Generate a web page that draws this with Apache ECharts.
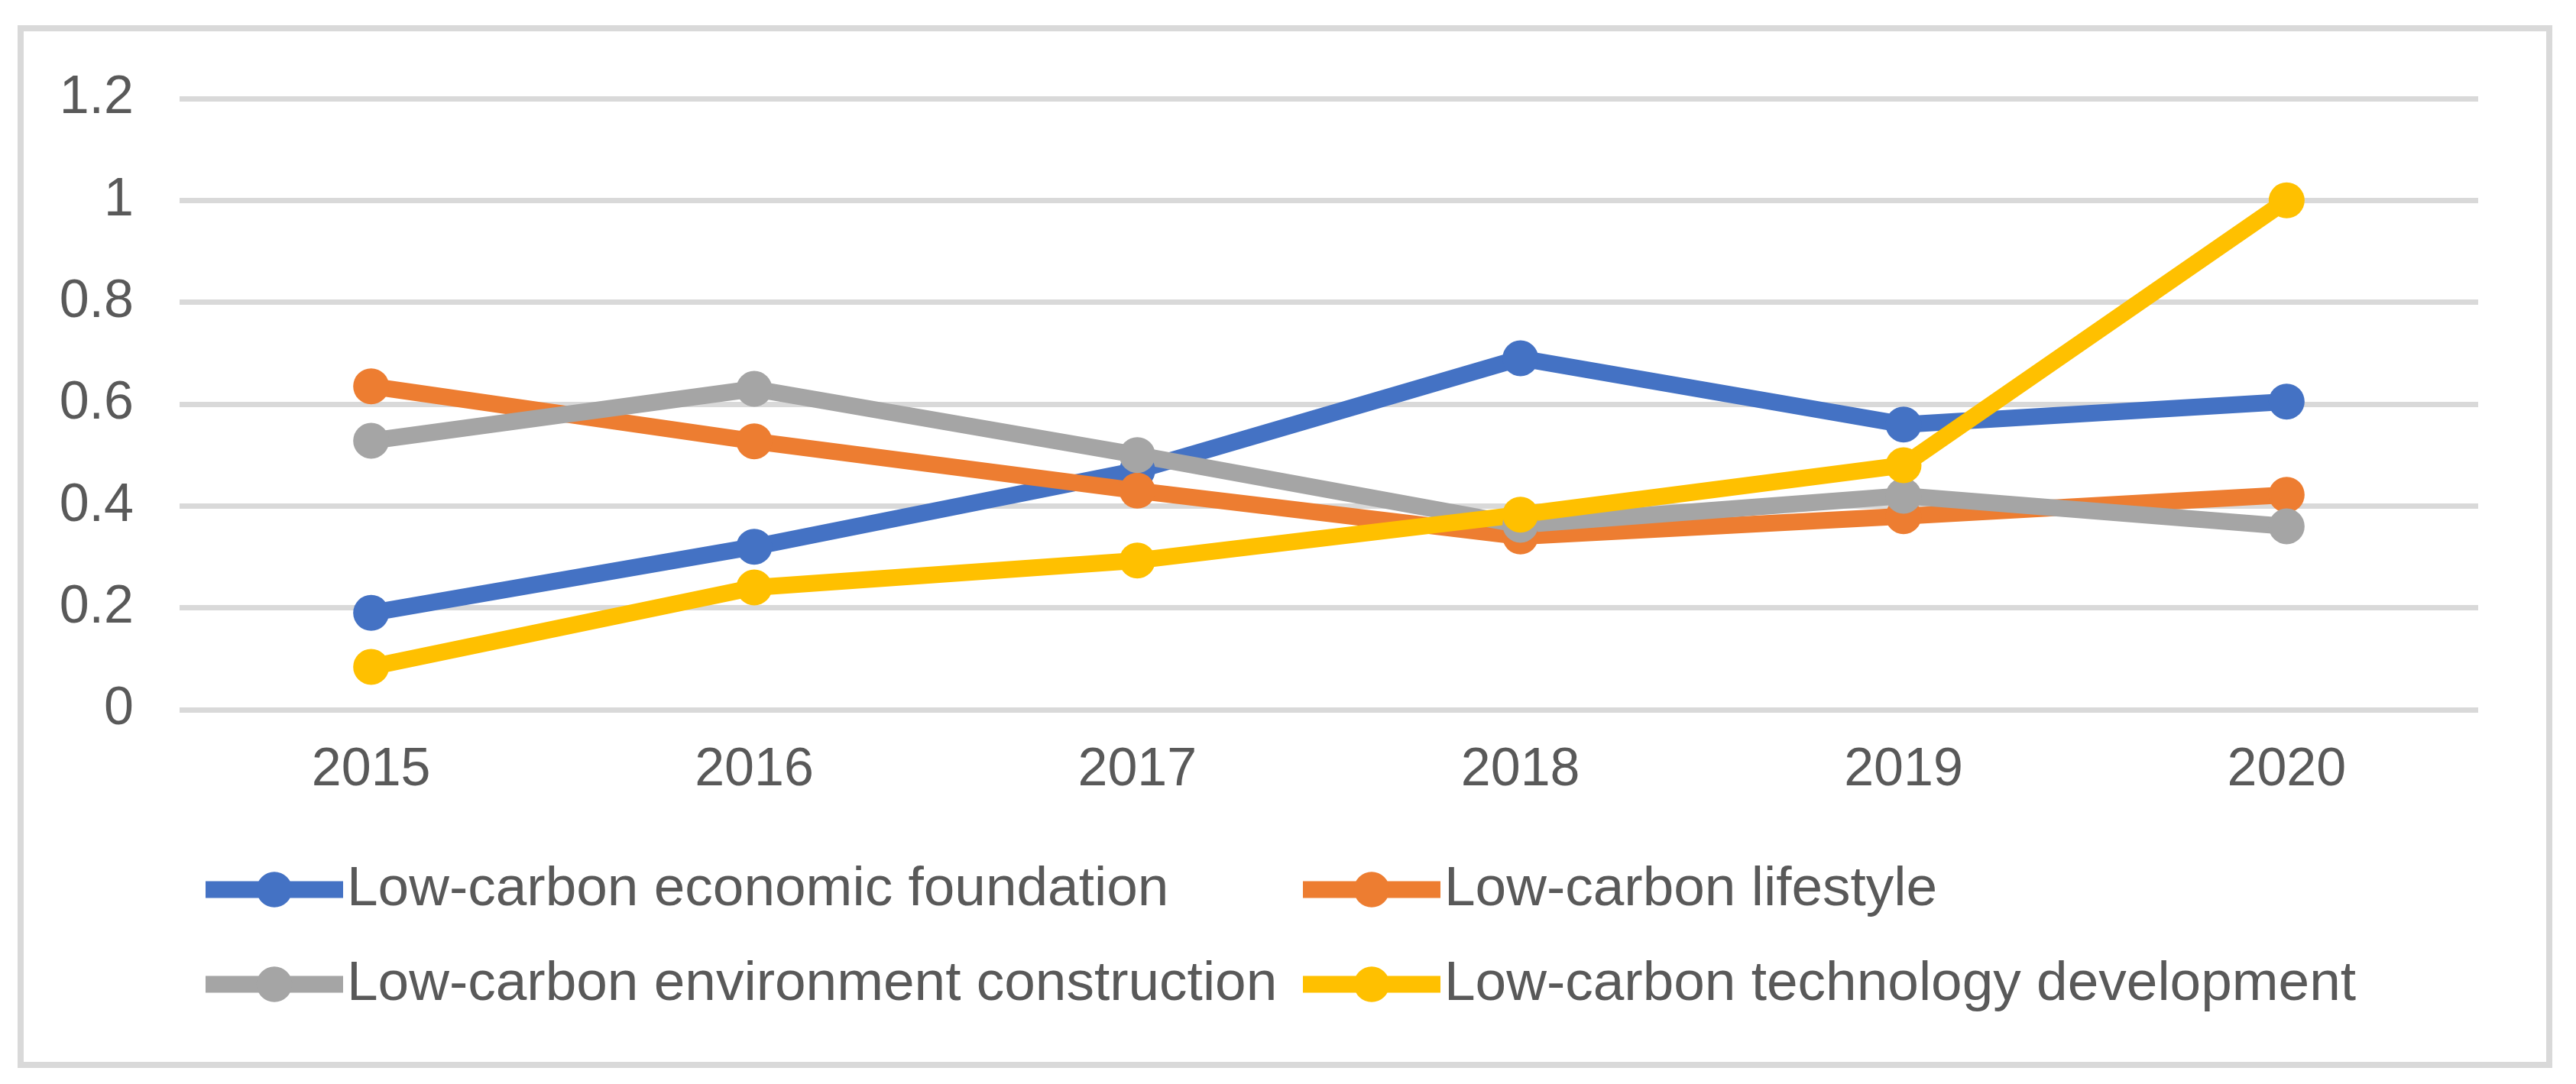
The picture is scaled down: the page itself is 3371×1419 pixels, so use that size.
<!DOCTYPE html>
<html>
<head>
<meta charset="utf-8">
<script src="https://cdn.jsdelivr.net/npm/echarts@6/dist/echarts.min.js"></script>
<style>
  html, body { margin: 0; padding: 0; background: #fff; }
  #chart { width: 3371px; height: 1419px; }
</style>
</head>
<body>
<div id="chart"></div>
<script>
// low-carbon index, 2015-2020
const years = ['2015', '2016', '2017', '2018', '2019', '2020'];

const economicFoundation = [0.19, 0.32, 0.47, 0.69, 0.56, 0.605];
const lifestyle = [0.635, 0.527, 0.43, 0.34, 0.38, 0.422];
const environmentConstruction = [0.528, 0.63, 0.5, 0.363, 0.42, 0.36];
const technologyDevelopment = [0.084, 0.24, 0.293, 0.383, 0.48, 1.0];

const seriesNames = [
  'Low-carbon economic foundation',
  'Low-carbon lifestyle',
  'Low-carbon environment construction',
  'Low-carbon technology development'
];
const colors = ['#4472C4', '#ED7D31', '#A5A5A5', '#FFC000'];

(function() {
  const font = "'Liberation Sans', Arial, sans-serif";
  const values = [economicFoundation, lifestyle, environmentConstruction, technologyDevelopment];

  const legendBase = {
    orient: 'vertical',
    top: 1128,
    padding: 0,
    itemGap: 51,
    itemWidth: 180,
    itemHeight: 58,
    selectedMode: false,
    lineStyle: { width: 22 },
    textStyle: {
      fontSize: 73,
      color: '#595959',
      fontFamily: font
    }
  };

  const option = {
    backgroundColor: '#fff',
    animation: false,
    graphic: [
      {
        type: 'rect',
        shape: { x: 27, y: 37, width: 3309, height: 1357 },
        style: { fill: 'none', stroke: '#D9D9D9', lineWidth: 8 },
        silent: true
      }
    ],
    legend: [
      Object.assign({}, legendBase, { left: 258, data: [seriesNames[0], seriesNames[2]] }),
      Object.assign({}, legendBase, { left: 1694, data: [seriesNames[1], seriesNames[3]] })
    ],
    grid: {
      left: 235,
      right: 128,
      top: 129,
      bottom: 490,
      containLabel: false
    },
    xAxis: {
      type: 'category',
      data: years,
      boundaryGap: true,
      axisLine: { show: false },
      axisTick: { show: false },
      axisLabel: {
        fontSize: 70,
        color: '#595959',
        fontFamily: font,
        margin: 45
      }
    },
    yAxis: {
      type: 'value',
      min: 0,
      max: 1.2,
      interval: 0.2,
      axisLine: { show: false },
      axisTick: { show: false },
      axisLabel: {
        fontSize: 70,
        color: '#595959',
        fontFamily: font,
        margin: 60
      },
      splitLine: {
        show: true,
        lineStyle: { color: '#D9D9D9', width: 7 }
      }
    },
    series: seriesNames.map((name, i) => ({
      name: name,
      type: 'line',
      data: values[i],
      symbol: 'circle',
      symbolSize: 47,
      lineStyle: { color: colors[i], width: 22 },
      itemStyle: { color: colors[i] }
    }))
  };

  const chart = echarts.init(document.getElementById('chart'));
  chart.setOption(option);
  window.addEventListener('resize', () => chart.resize());
})();
</script>
</body>
</html>
